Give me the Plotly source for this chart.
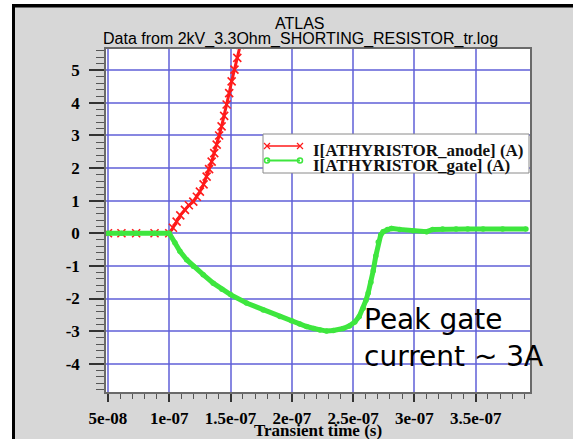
import plotly.graph_objects as go

# ---- data -------------------------------------------------------------
anode_t = [5.0e-8, 6.1e-8, 7.3e-8, 8.8e-8, 1.0e-7, 1.03e-7, 1.06e-7, 1.09e-7,
           1.128e-7, 1.16e-7, 1.196e-7, 1.225e-7, 1.25e-7, 1.28e-7, 1.305e-7,
           1.325e-7, 1.346e-7, 1.367e-7, 1.387e-7, 1.407e-7, 1.427e-7,
           1.448e-7, 1.468e-7, 1.489e-7, 1.509e-7, 1.532e-7, 1.555e-7, 1.58e-7]
anode_i = [0, 0, 0, 0, 0, 0.17, 0.36, 0.55, 0.72, 0.86, 0.97, 1.12, 1.28, 1.5,
           1.74, 1.97, 2.2, 2.46, 2.72, 3.0, 3.28, 3.6, 3.95, 4.3, 4.66, 5.02,
           5.38, 5.78]

gate_t = [5.0e-8, 6.1e-8, 7.3e-8, 8.8e-8, 1.0e-7, 1.046e-7, 1.087e-7, 1.142e-7,
          1.196e-7, 1.277e-7, 1.359e-7, 1.43e-7, 1.5e-7, 1.63e-7, 1.767e-7,
          1.903e-7, 1.998e-7, 2.065e-7, 2.12e-7, 2.18e-7, 2.229e-7, 2.283e-7,
          2.338e-7, 2.418e-7, 2.47e-7, 2.514e-7, 2.55e-7, 2.582e-7, 2.605e-7,
          2.623e-7, 2.645e-7, 2.664e-7, 2.685e-7, 2.705e-7, 2.725e-7, 2.745e-7,
          2.78e-7, 2.813e-7, 2.881e-7, 2.99e-7, 3.1e-7, 3.15e-7, 3.23e-7,
          3.34e-7, 3.435e-7, 3.56e-7, 3.72e-7, 3.91e-7]
gate_i = [0, 0, 0, 0, 0, -0.29, -0.55, -0.81, -1.01, -1.27, -1.53, -1.72, -1.88,
          -2.14, -2.35, -2.55, -2.68, -2.78, -2.86, -2.92, -2.97, -3.0, -2.98,
          -2.92, -2.84, -2.72, -2.55, -2.3, -2.05, -1.83, -1.5, -1.15, -0.7,
          -0.27, -0.05, 0.05, 0.12, 0.15, 0.12, 0.08, 0.05, 0.12, 0.13, 0.13,
          0.13, 0.13, 0.13, 0.13]

x_ticks = [5e-8, 1e-7, 1.5e-7, 2e-7, 2.5e-7, 3e-7, 3.5e-7]
x_labels = ["5e-08", "1e-07", "1.5e-07", "2e-07", "2.5e-07", "3e-07", "3.5e-07"]
y_ticks = [-4, -3, -2, -1, 0, 1, 2, 3, 4, 5]
y_labels = ["-4", "-3", "-2", "-1", "0", "1", "2", "3", "4", "5"]

series_names = ["I[ATHYRISTOR_anode] (A)", "I[ATHYRISTOR_gate] (A)"]
title_lines = ["ATLAS", "Data from 2kV_3.3Ohm_SHORTING_RESISTOR_tr.log"]
x_title = "Transient time (s)"
note_lines = ["Peak gate", "current ~ 3A"]

# ---- page geometry (pixels) ------------------------------------------
W, H = 573, 439
L, R, T, B = 106, 530, 49, 392

RED = "#ff1a1a"
GREEN = "#3ee63e"
GRID = "rgba(95,95,215,0.75)"
BG = "#d7d7d7"
SERIF = "Liberation Serif, Times New Roman, serif"
SANS = "Liberation Sans, Arial, sans-serif"


def px(x):
    return (x - L) / (R - L)


def py(y):
    return (B - y) / (B - T)


def bold(items):
    return ["<b>%s</b>" % s for s in items]


fig = go.Figure()

fig.add_trace(go.Scatter(
    x=anode_t, y=anode_i, mode="lines+markers", name=series_names[0],
    line=dict(color=RED, width=3),
    marker=dict(symbol="x-thin", size=8, line=dict(color=RED, width=1.6)),
    showlegend=False,
))
fig.add_trace(go.Scatter(
    x=gate_t, y=gate_i, mode="lines+markers", name=series_names[1],
    line=dict(color=GREEN, width=5),
    marker=dict(symbol="circle", size=5.5, color=GREEN),
    showlegend=False,
))

# legend box drawn in an overlaid pixel-space subplot
box_x = [263, 529, 529, 263, 263]
box_y = [134, 134, 173, 173, 134]
fig.add_trace(go.Scatter(
    x=box_x, y=box_y, xaxis="x2", yaxis="y2", mode="lines", fill="toself",
    fillcolor="white", line=dict(color="#8a8a8a", width=1), hoverinfo="skip",
    showlegend=False,
))
fig.add_trace(go.Scatter(
    x=[267, 300], y=[146, 146], xaxis="x2", yaxis="y2", mode="lines+markers",
    line=dict(color=RED, width=1.5),
    marker=dict(symbol="x-thin", size=6, line=dict(color=RED, width=1.2)),
    hoverinfo="skip", showlegend=False,
))
fig.add_trace(go.Scatter(
    x=[267, 300], y=[160.5, 160.5], xaxis="x2", yaxis="y2", mode="lines+markers",
    line=dict(color=GREEN, width=2),
    marker=dict(symbol="circle-open", size=5, color=GREEN, line=dict(width=1.5)),
    hoverinfo="skip", showlegend=False,
))

annotations = [
    dict(x=px(300), y=py(23), xref="paper", yref="paper", text=title_lines[0],
         showarrow=False, xanchor="center", yanchor="middle",
         font=dict(family=SANS, size=16, color="black")),
    dict(x=px(300), y=py(38.5), xref="paper", yref="paper", text=title_lines[1],
         showarrow=False, xanchor="center", yanchor="middle",
         font=dict(family=SANS, size=16, color="black")),
    dict(x=px(318), y=py(430), xref="paper", yref="paper",
         text="<b>%s</b>" % x_title,
         showarrow=False, xanchor="center", yanchor="middle",
         font=dict(family=SERIF, size=17, color="black")),
    dict(x=311, y=150.5, xref="x2", yref="y2",
         text="<b>%s</b>" % series_names[0],
         showarrow=False, xanchor="left", yanchor="middle",
         font=dict(family=SERIF, size=17, color="#111")),
    dict(x=311, y=165, xref="x2", yref="y2",
         text="<b>%s</b>" % series_names[1],
         showarrow=False, xanchor="left", yanchor="middle",
         font=dict(family=SERIF, size=17, color="#111")),
    dict(x=px(362), y=py(319), xref="paper", yref="paper", text=note_lines[0],
         showarrow=False, xanchor="left", yanchor="middle",
         font=dict(family="DejaVu Sans", size=28, color="black")),
    dict(x=px(362), y=py(356), xref="paper", yref="paper", text=note_lines[1],
         showarrow=False, xanchor="left", yanchor="middle",
         font=dict(family="DejaVu Sans", size=28, color="black")),
]

shapes = [
    # white margin and black frame at the top and left edges
    dict(type="rect", xref="paper", yref="paper", x0=px(0), x1=px(W), y0=py(0),
         y1=py(4), fillcolor="white", line=dict(width=0), layer="below"),
    dict(type="rect", xref="paper", yref="paper", x0=px(0), x1=px(12), y0=py(0),
         y1=py(H), fillcolor="white", line=dict(width=0), layer="below"),
    dict(type="rect", xref="paper", yref="paper", x0=px(12), x1=px(W), y0=py(4),
         y1=py(7.5), fillcolor="black", line=dict(width=0), layer="below"),
    dict(type="rect", xref="paper", yref="paper", x0=px(12), x1=px(15), y0=py(4),
         y1=py(H), fillcolor="black", line=dict(width=0), layer="below"),
]

fig.update_layout(
    width=W, height=H, autosize=False,
    margin=dict(l=L, r=W - R, t=T, b=H - B, pad=0, autoexpand=False),
    paper_bgcolor=BG, plot_bgcolor="white",
    showlegend=False,
    annotations=annotations, shapes=shapes,
    xaxis=dict(
        range=[4.84e-8, 3.943e-7], tickmode="array", tickvals=x_ticks,
        ticktext=bold(x_labels), ticks="outside", ticklen=8, tickwidth=1.5,
        tickcolor="#333", showline=True, linecolor="#6a6a6a", linewidth=1.5,
        mirror=True, showgrid=True, gridcolor=GRID, gridwidth=1.6,
        zeroline=False, ticklabelstandoff=2, automargin=False,
        tickfont=dict(family=SERIF, size=17, color="black"),
        minor=dict(tickmode="linear", tick0=0, dtick=1e-8, ticks="outside",
                   ticklen=5, tickcolor="#555", tickwidth=1, showgrid=False),
    ),
    yaxis=dict(
        range=[-4.868, 5.653], tickmode="array", tickvals=y_ticks,
        ticktext=bold(y_labels), ticks="outside", ticklen=15, tickwidth=1.5,
        tickcolor="#333", showline=True, linecolor="#6a6a6a", linewidth=1.5,
        mirror=True, showgrid=True, gridcolor=GRID, gridwidth=1.6,
        zeroline=False, ticklabelstandoff=6, automargin=False,
        tickfont=dict(family=SERIF, size=17, color="black"),
        minor=dict(tickmode="linear", tick0=0, dtick=0.2, ticks="outside",
                   ticklen=8, tickcolor="#555", tickwidth=1, showgrid=False),
    ),
    xaxis2=dict(range=[L, R], overlaying="x", visible=False, fixedrange=True),
    yaxis2=dict(range=[B, T], overlaying="y", visible=False, fixedrange=True),
)

fig.write_html(
    "out.html",
    config={"responsive": False, "displayModeBar": False},
    post_script="document.body.style.margin='0';"
                "document.body.style.overflow='hidden';",
)
